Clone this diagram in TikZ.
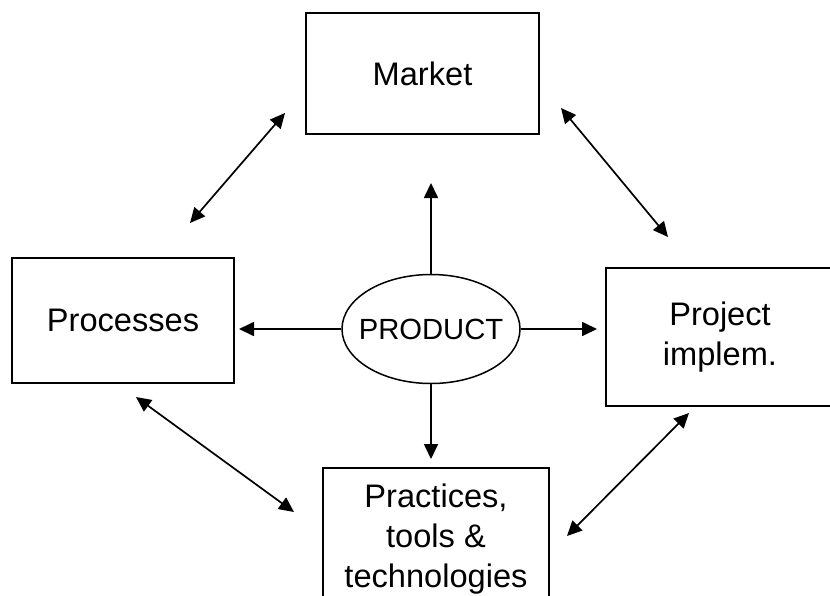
\documentclass[tikz,border=0pt]{standalone}
\usepackage{fontspec}
\setmainfont{Liberation Sans}
\usetikzlibrary{shapes.geometric,arrows.meta}

\begin{document}
\begin{tikzpicture}[x=0.5pt, y=-0.5pt,
  box/.style={draw, line width=1pt, rectangle, align=center, inner sep=0pt,
              font=\fontsize{16.3}{19.8}\selectfont},
  prodshape/.style={draw, line width=0.75pt, ellipse, inner xsep=-6pt, inner ysep=0pt,
              minimum width=89pt, minimum height=54.5pt,
              font=\fontsize{14.6}{17}\selectfont},
  arr/.style={line width=0.85pt, -{Triangle[length=7.5pt,width=7pt]}},
  biarr/.style={line width=0.85pt, {Triangle[length=7.5pt,width=7pt]}-{Triangle[length=7.5pt,width=7pt]}}]

  % Bounding box of the scheme
  \useasboundingbox (0,0) rectangle (830,595);

  %%%%%%%%%%%%%%%%%%%%%%%%%%%%%%%%% Blocs %%%%%%%%%%%%%%%%%%%%%%%%%%%%%%%%%%%%
  \draw (422.5,73.5) node[box, minimum width=116.5pt, minimum height=60.5pt] (market) {Market} ;
  \draw (123,320.5) node[box, minimum width=111pt, minimum height=62.5pt] (proc) {Processes} ;
  \draw (720,337) node[box, minimum width=114pt, minimum height=69pt] (proj) {Project\\implem.} ;
  \draw (436,539) node[box, minimum width=113pt, minimum height=71pt] (prac) {Practices,\\tools \&\\technologies} ;

  % Produit au centre
  \draw (431,329) node[prodshape] (prod) {PRODUCT} ;

  %%%%%%%%%%%%%%%%%%%%%%%%%%%%%%%%% Fleches du produit %%%%%%%%%%%%%%%%%%%%%%%%%%%%%%%%%%%%
  \draw[arr, shorten >=24pt] (prod.north) -- (prod.north |- market.south) ;
  \draw[arr, shorten >=4pt] (prod.east) -- (prod.east -| proj.west) ;
  \draw[arr, shorten >=2pt] (prod.west) -- (prod.west -| proc.east) ;
  \draw[arr, shorten >=4pt] (prod.south) -- (prod.south |- prac.north) ;

  %%%%%%%%%%%%%%%%%%%%%%%%%%%%%%%%% Fleches entre blocs %%%%%%%%%%%%%%%%%%%%%%%%%%%%%%%%%%%%
  % Extremites
  \coordinate (pm1) at (190,223) ;
  \coordinate (pm2) at (285,113) ;
  \coordinate (mp1) at (561,108) ;
  \coordinate (mp2) at (668,237) ;
  \coordinate (pp1) at (136,397) ;
  \coordinate (pp2) at (294,512) ;
  \coordinate (jp1) at (567,536) ;
  \coordinate (jp2) at (689,413) ;

  \foreach \a/\b in {pm1/pm2, mp1/mp2, pp1/pp2, jp1/jp2} {
    \draw[biarr] (\a) -- (\b) ;
  }

\end{tikzpicture}
\end{document}
